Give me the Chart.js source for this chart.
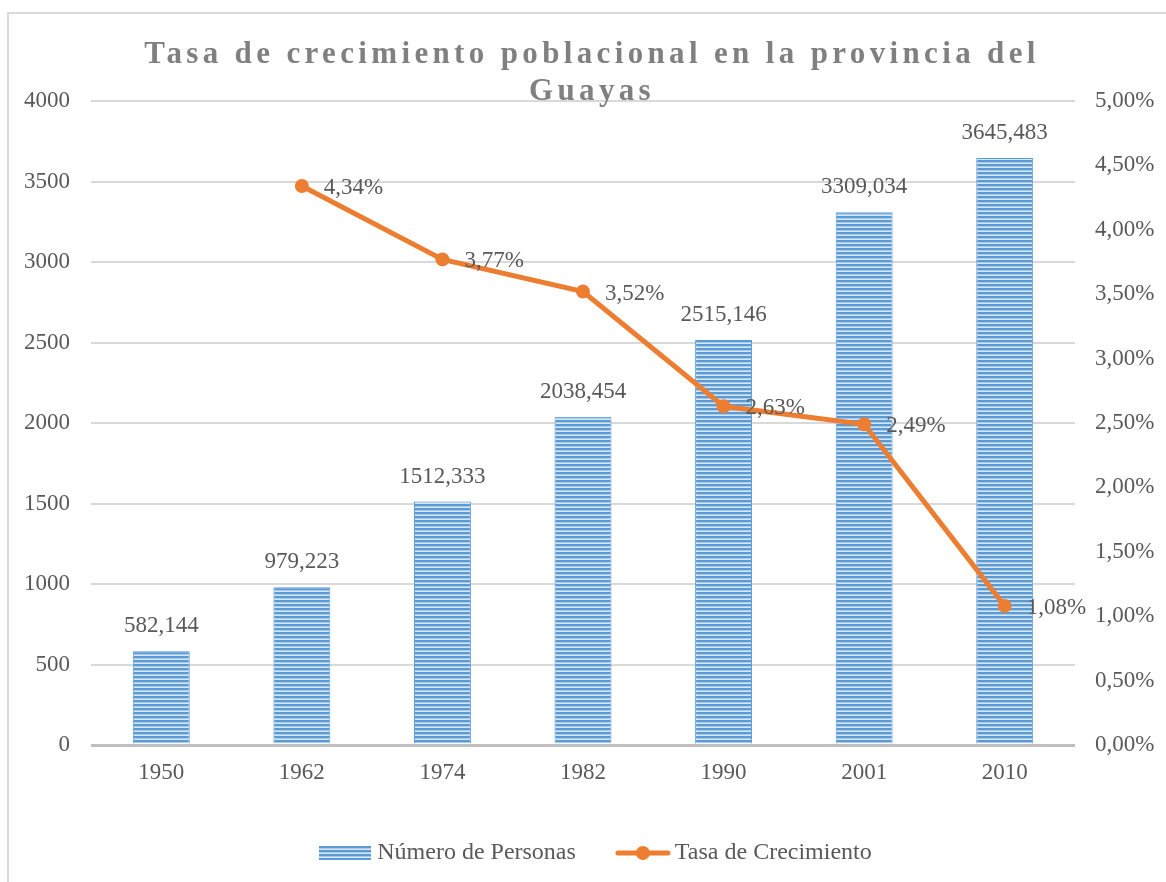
<!DOCTYPE html>
<html>
<head>
<meta charset="utf-8">
<script src="https://cdn.jsdelivr.net/npm/chart.js@4"></script>
<style>
  html, body { margin: 0; padding: 0; background: #fff; overflow: hidden; }
  #frame { position: absolute; left: 7px; top: 12px; width: 1300px; height: 1000px; border: 2px solid #d9d9d9; }
  #chart { position: absolute; left: 0; top: 0; }
</style>
</head>
<body>
<div id="frame"></div>
<canvas id="chart" width="1166" height="882"></canvas>
<script>
// Tasa de crecimiento poblacional - Guayas

const YEARS = ['1950', '1962', '1974', '1982', '1990', '2001', '2010'];
const PERSONAS = [582.144, 979.223, 1512.333, 2038.454, 2515.146, 3309.034, 3645.483];
const TASA = [null, 4.34, 3.77, 3.52, 2.63, 2.49, 1.08];
const LEFT_TICKS = [0, 500, 1000, 1500, 2000, 2500, 3000, 3500, 4000];
const RIGHT_TICKS = [0, 0.5, 1, 1.5, 2, 2.5, 3, 3.5, 4, 4.5, 5];

const FONT = "'Liberation Serif', 'Times New Roman', serif";
const TEXT = '#595959';
const BLUE = '#5b9bd5';
const ORANGE = '#ed7d31';

const fmtComma = (v, d) => v.toFixed(d).replace('.', ',');

// striped fill like the excel pattern
function stripePattern() {
    const c = document.createElement('canvas');
    c.width = 4;
    c.height = 4;
    const g = c.getContext('2d');
    const rows = [BLUE, BLUE, '#a9cbeb', '#d6e6f6'];
    rows.forEach((col, i) => {
        g.fillStyle = col;
        g.fillRect(0, i, 4, 1);
    });
    return g.createPattern(c, 'repeat');
}

function barIcon() {
    const c = document.createElement('canvas');
    c.width = 52;
    c.height = 14;
    const g = c.getContext('2d');
    g.fillStyle = stripePattern();
    g.fillRect(0, 0, 52, 14);
    return c;
}

function lineIcon() {
    const c = document.createElement('canvas');
    c.width = 56;
    c.height = 16;
    const g = c.getContext('2d');
    g.strokeStyle = ORANGE;
    g.lineWidth = 5;
    g.lineCap = 'round';
    g.beginPath();
    g.moveTo(3, 8);
    g.lineTo(53, 8);
    g.stroke();
    g.fillStyle = ORANGE;
    g.beginPath();
    g.arc(28, 8, 7, 0, Math.PI * 2);
    g.fill();
    return c;
}

const titlePlugin = {
    id: 'titleText',
    afterDraw(chart) {
        const ctx = chart.ctx;
        ctx.save();
        ctx.font = 'bold 31px ' + FONT;
        ctx.fillStyle = '#808080';
        ctx.textAlign = 'center';
        ctx.textBaseline = 'alphabetic';
        ctx.letterSpacing = '4.35px';
        ctx.fillText('Tasa de crecimiento poblacional en la provincia del', 592, 63);
        ctx.fillText('Guayas', 592, 100);
        ctx.restore();
    },
};

// nudge the legend a bit right, like the original
const legendShift = {
    id: 'legendShift',
    afterLayout(chart) {
        chart.legend.left += 15.5;
        chart.legend.right += 15.5;
    },
};

const labelPlugin = {
    id: 'valueLabels',
    afterDatasetsDraw(chart) {
        const ctx = chart.ctx;
        ctx.save();
        ctx.font = '23px ' + FONT;
        ctx.fillStyle = TEXT;
        ctx.textBaseline = 'middle';

        ctx.textAlign = 'center';
        chart.getDatasetMeta(0).data.forEach((bar, i) => {
            ctx.fillText(fmtComma(PERSONAS[i], 3), bar.x, bar.y - 25);
        });

        ctx.textAlign = 'left';
        chart.getDatasetMeta(1).data.forEach((pt, i) => {
            if (TASA[i] == null) return;
            ctx.fillText(fmtComma(TASA[i], 2) + '%', pt.x + 22, pt.y + 2);
        });
        ctx.restore();
    },
};

new Chart(document.getElementById('chart'), {
    type: 'bar',
    data: {
        labels: YEARS,
        datasets: [
            {
                type: 'bar',
                label: 'Número de Personas',
                data: PERSONAS,
                yAxisID: 'y',
                backgroundColor: stripePattern(),
                borderColor: BLUE,
                borderWidth: 1,
                categoryPercentage: 1,
                barPercentage: 0.405,
                order: 1,
            },
            {
                type: 'line',
                label: 'Tasa de Crecimiento',
                data: TASA,
                yAxisID: 'y1',
                borderColor: ORANGE,
                backgroundColor: ORANGE,
                borderWidth: 5,
                pointRadius: 7,
                pointHoverRadius: 7,
                pointBorderWidth: 0,
                tension: 0,
                order: 0,
            },
        ],
    },
    options: {
        responsive: false,
        animation: false,
        layout: { padding: { top: 101, bottom: 7, left: 0, right: 0 } },
        plugins: {
            title: { display: false },
            tooltip: { enabled: false },
            legend: {
                position: 'bottom',
                labels: {
                    usePointStyle: true,
                    pointStyleWidth: 40,
                    padding: 47,
                    color: TEXT,
                    font: { family: FONT, size: 24 },
                    generateLabels: () => [
                        { text: 'Número de Personas', pointStyle: barIcon(), fontColor: TEXT, datasetIndex: 0, lineWidth: 0 },
                        { text: 'Tasa de Crecimiento', pointStyle: lineIcon(), fontColor: TEXT, datasetIndex: 1, lineWidth: 0 },
                    ],
                },
            },
        },
        scales: {
            x: {
                grid: { display: false, drawTicks: false },
                border: { display: false },
                ticks: { color: TEXT, font: { family: FONT, size: 23 }, padding: 14 },
                afterFit: (s) => { s.height = 49; },
            },
            y: {
                position: 'left',
                min: 0,
                max: 4000,
                afterBuildTicks: (s) => { s.ticks = LEFT_TICKS.map((v) => ({ value: v })); },
                grid: {
                    drawTicks: false,
                    color: (c) => (c.tick && c.tick.value === 0 ? '#bfbfbf' : '#d9d9d9'),
                    lineWidth: (c) => (c.tick && c.tick.value === 0 ? 3 : 2),
                },
                border: { display: false },
                ticks: {
                    color: TEXT,
                    font: { family: FONT, size: 23 },
                    padding: 21,
                    callback: (v) => String(v),
                },
                afterFit: (s) => { s.width = 91; },
            },
            y1: {
                position: 'right',
                min: 0,
                max: 5,
                afterBuildTicks: (s) => { s.ticks = RIGHT_TICKS.map((v) => ({ value: v })); },
                grid: { display: false, drawTicks: false },
                border: { display: false },
                ticks: {
                    color: TEXT,
                    font: { family: FONT, size: 23 },
                    padding: 20,
                    callback: (v) => fmtComma(v, 2) + '%',
                },
                afterFit: (s) => { s.width = 91; },
            },
        },
    },
    plugins: [titlePlugin, labelPlugin, legendShift],
});
</script>
</body>
</html>
